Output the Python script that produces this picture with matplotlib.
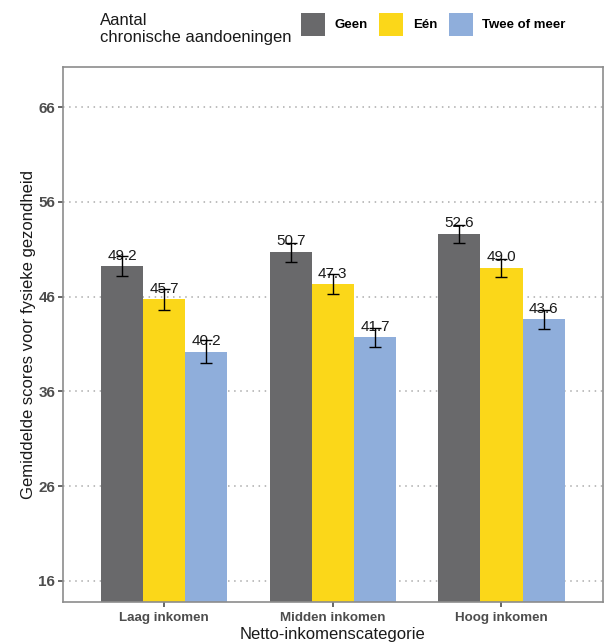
import matplotlib.pyplot as plt
import numpy as np
from matplotlib.patches import Patch

plt.rcParams['font.family'] = ['Liberation Sans', 'DejaVu Sans']

# --- data ---
categories = ['Laag inkomen', 'Midden inkomen', 'Hoog inkomen']
groups = ['Geen', 'Eén', 'Twee of meer']
geen = [49.2, 50.7, 52.6]
een = [45.7, 47.3, 49.0]
twee = [40.2, 41.7, 43.6]
err_geen = [1.05, 1.0, 0.95]
err_een = [1.1, 1.05, 0.95]
err_twee = [1.2, 1.0, 1.0]
yticks = [16, 26, 36, 46, 56, 66]

colors = ['#69696B', '#FBD719', '#8FAEDB']
series = [geen, een, twee]
errs = [err_geen, err_een, err_twee]

fig = plt.figure(figsize=(6.04, 6.43), dpi=100)
ax = fig.add_axes([0.1043, 0.0633, 0.8935, 0.8320])

x = np.arange(1, len(categories) + 1)
w = 0.25
for i, (vals, e, c) in enumerate(zip(series, errs, colors)):
    pos = x + (i - 1) * w
    ax.bar(pos, vals, width=w, color=c, zorder=2)
    ax.errorbar(pos, vals, yerr=e, fmt='none', ecolor='black', elinewidth=1,
                capsize=4, capthick=1, zorder=4)
    for p, v in zip(pos, vals):
        ax.text(p, v + 0.4, f'{v:.1f}', ha='center', va='bottom', fontsize=11,
                color='#1a1a1a', zorder=3)

ax.set_xlim(0.4, 3.6)
ax.set_ylim(13.72, 70.22)
ax.set_yticks(yticks)
ax.set_xticks(x)
ax.set_xticklabels(categories)
ax.yaxis.grid(True, linestyle=(0, (1, 3)), color='#ababab', linewidth=1.1, zorder=0)
ax.set_axisbelow(True)
for s in ax.spines.values():
    s.set_color('#8c8c8c')
    s.set_linewidth(1.2)
ax.tick_params(axis='both', colors='#4d4d4d', width=1.2)
ax.tick_params(axis='y', length=3.5, pad=2)
ax.tick_params(axis='x', length=3.3, pad=3.5)
for lab in ax.get_yticklabels():
    lab.set_fontsize(11)
    lab.set_fontweight('bold')
for lab in ax.get_xticklabels():
    lab.set_fontsize(9.6)
    lab.set_fontweight('bold')
ax.set_ylabel('Gemiddelde scores voor fysieke gezondheid', fontsize=12, color='#1a1a1a')
ax.yaxis.set_label_coords(-0.05, 0.5)
ax.set_xlabel('Netto-inkomenscategorie', fontsize=12, color='#1a1a1a', labelpad=2)

# legend
fig.text(0.1655, 0.9555, 'Aantal\nchronische aandoeningen', fontsize=12, color='#1a1a1a',
         ha='left', va='center', linespacing=1.15)
handles = [Patch(facecolor=c, edgecolor='none') for c in colors]
leg = fig.legend(handles, groups, ncol=3, loc='center left', bbox_to_anchor=(0.4983, 0.9622),
                 frameon=False, borderpad=0, borderaxespad=0,
                 handlelength=1.82, handleheight=2.34, handletextpad=0.73,
                 columnspacing=0.87, prop={'weight': 'bold', 'size': 9.5})

fig.savefig('out.png', dpi=100)
